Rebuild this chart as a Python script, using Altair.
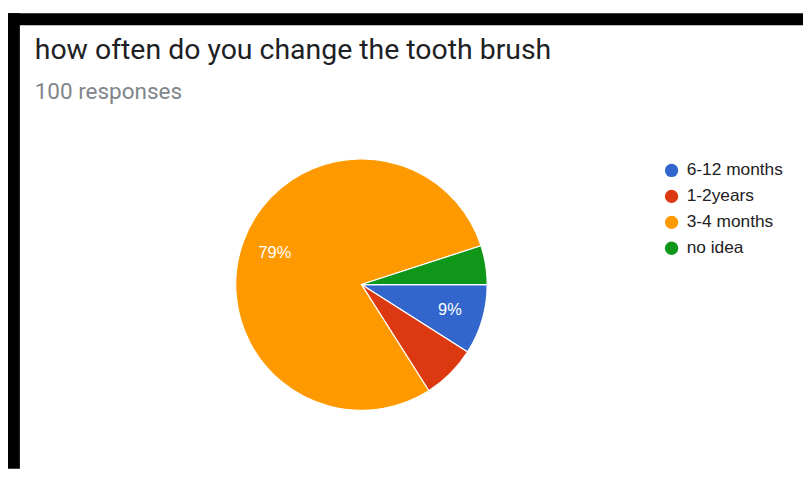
import math
import altair as alt
import pandas as pd

# ---- data ----
categories = ["6-12 months", "1-2years", "3-4 months", "no idea"]
values = [9, 7, 79, 5]
slice_order = [0, 1, 2, 3]
colors = ["#3366cc", "#dc3912", "#ff9900", "#109618"]
title_text = "how often do you change the tooth brush"
subtitle_text = "100 responses"

df = pd.DataFrame({
    "category": categories,
    "value": values,
    "ord": slice_order,
    "label": [f"{v}%" if v >= 9 else "" for v in values],
})

W, H = 803, 463
CX, CY, R = 357, 277, 127

theta_scale = alt.Scale(range=[math.pi / 2, math.pi / 2 + 2 * math.pi])
color_scale = alt.Scale(domain=categories, range=colors)

one = pd.DataFrame({"k": [0]})

frame_top = alt.Chart(one).mark_rect(color="#000000").encode(
    x=alt.value(0), x2=alt.value(W), y=alt.value(3), y2=alt.value(15)
)
frame_left = alt.Chart(one).mark_rect(color="#000000").encode(
    x=alt.value(0), x2=alt.value(12), y=alt.value(3), y2=alt.value(H)
)

title = alt.Chart(one).mark_text(
    text=title_text, font="Roboto", fontSize=28.7, color="#202124",
    align="left", baseline="alphabetic"
).encode(x=alt.value(27), y=alt.value(49))

subtitle = alt.Chart(one).mark_text(
    text=subtitle_text, font="Roboto", fontSize=22.7, color="#80868b",
    align="left", baseline="alphabetic"
).encode(x=alt.value(27), y=alt.value(90))

pie = alt.Chart(df).mark_arc(outerRadius=R, stroke="#ffffff", strokeWidth=1.2).encode(
    theta=alt.Theta("value:Q", stack=True, scale=theta_scale),
    color=alt.Color(
        "category:N", scale=color_scale, sort=categories,
        legend=alt.Legend(
            orient="none", legendX=661.5, legendY=153, title=None,
            symbolType="circle", symbolSize=180, symbolStrokeWidth=0,
            labelFont="Liberation Sans", labelFontSize=17.5, labelColor="#222222",
            rowPadding=7.2, labelOffset=6.5,
        ),
    ),
    order=alt.Order("ord:Q"),
    x=alt.value(CX), y=alt.value(CY),
)

labels = alt.Chart(df).mark_text(
    radius=93, font="Liberation Sans", fontSize=16.5, color="#ffffff"
).encode(
    theta=alt.Theta("value:Q", stack=True, scale=theta_scale),
    text="label:N",
    order=alt.Order("ord:Q"),
    x=alt.value(CX), y=alt.value(CY),
)

chart = alt.layer(frame_top, frame_left, title, subtitle, pie, labels).properties(
    width=W, height=H, padding=0, autosize=alt.AutoSizeParams(type="none"),
    background="#ffffff",
).configure_view(stroke=None)

chart.save("out.html", embed_options={"renderer": "svg", "actions": False})
